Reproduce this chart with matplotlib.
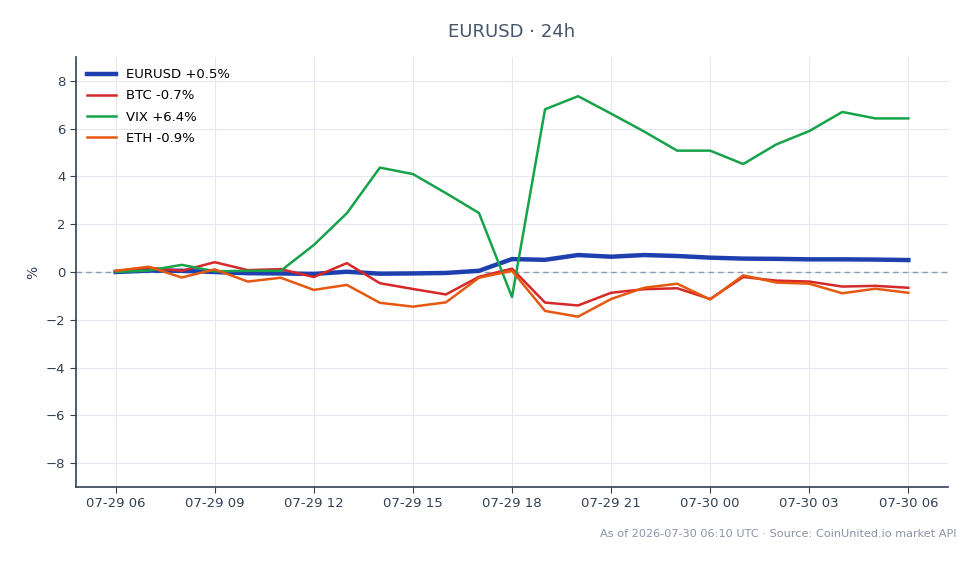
import matplotlib
matplotlib.use("Agg")
import matplotlib.pyplot as plt
import matplotlib.dates as mdates
import numpy as np
import pandas as pd

times = pd.date_range("2026-07-29 06:00", "2026-07-30 06:00", freq="h")

eurusd = [0.0, 0.06, 0.05, 0.0, -0.05, -0.06, -0.08, 0.01, -0.07, -0.06, -0.04, 0.05,
          0.54, 0.51, 0.71, 0.64, 0.71, 0.67, 0.6, 0.56, 0.55, 0.53, 0.53, 0.52, 0.5]
btc = [0.04, 0.18, 0.05, 0.41, 0.08, 0.12, -0.21, 0.37, -0.47, -0.71, -0.94, -0.2,
       0.14, -1.28, -1.4, -0.87, -0.72, -0.68, -1.13, -0.21, -0.36, -0.4, -0.61, -0.58, -0.66]
vix = [0.0, 0.06, 0.3, 0.03, 0.05, 0.05, 1.13, 2.46, 4.37, 4.1, 3.3, 2.47,
       -1.05, 6.81, 7.36, 6.63, 5.88, 5.08, 5.08, 4.52, 5.34, 5.9, 6.7, 6.43, 6.43]
eth = [0.05, 0.22, -0.23, 0.11, -0.4, -0.24, -0.75, -0.54, -1.29, -1.45, -1.27, -0.24,
       0.05, -1.63, -1.87, -1.13, -0.66, -0.49, -1.15, -0.14, -0.44, -0.49, -0.89, -0.7, -0.87]

series_names = ["EURUSD", "BTC", "VIX", "ETH"]
series_vals = [eurusd, btc, vix, eth]
colors = ["#1e40af", "#d62828", "#16a34a", "#e4590f"]
widths = [3.2, 1.8, 1.8, 1.8]

fig = plt.figure(figsize=(9.8, 5.64), dpi=100)
ax = fig.add_axes([76/980, 1-487/564, (948-76)/980, (487-57)/564])

for name, vals, c, w in zip(series_names, series_vals, colors, widths):
    ax.plot(times, vals, color=c, lw=w, label=f"{name} {vals[-1]:+.1f}%", zorder=3)

ax.axhline(0, color="#8c9bb0", lw=1.0, ls=(0, (4, 3)), zorder=2)
ax.set_ylim(-9, 9)
ax.set_yticks([-8, -6, -4, -2, 0, 2, 4, 6, 8])
ax.set_xlim(times[0] - pd.Timedelta(hours=1.2), times[-1] + pd.Timedelta(hours=1.2))
ax.xaxis.set_major_locator(mdates.HourLocator(byhour=range(0, 24, 3)))
ax.xaxis.set_major_formatter(mdates.DateFormatter("%m-%d %H"))

ax.grid(True, color="#e5e8ee", lw=0.8, zorder=0)
for s in ["top", "right"]:
    ax.spines[s].set_visible(False)
for s in ["left", "bottom"]:
    ax.spines[s].set_color("#334155")
    ax.spines[s].set_linewidth(1.2)
ax.tick_params(colors="#334155", labelsize=9.5, length=4)
ax.set_ylabel("%", color="#334155", fontsize=10)

ax.legend(loc="upper left", frameon=False, fontsize=9.5, handlelength=2.2,
          handletextpad=0.75, borderaxespad=0.45, labelspacing=0.62)

fig.text(512/980, 1-32/564, "EURUSD · 24h", ha="center", va="center",
         fontsize=13, color="#475569")
fig.text(956/980, 1-534/564, "As of 2026-07-30 06:10 UTC · Source: CoinUnited.io market API",
         ha="right", va="center", fontsize=8.1, color="#8a94a6")

fig.savefig("out.png", dpi=100)
